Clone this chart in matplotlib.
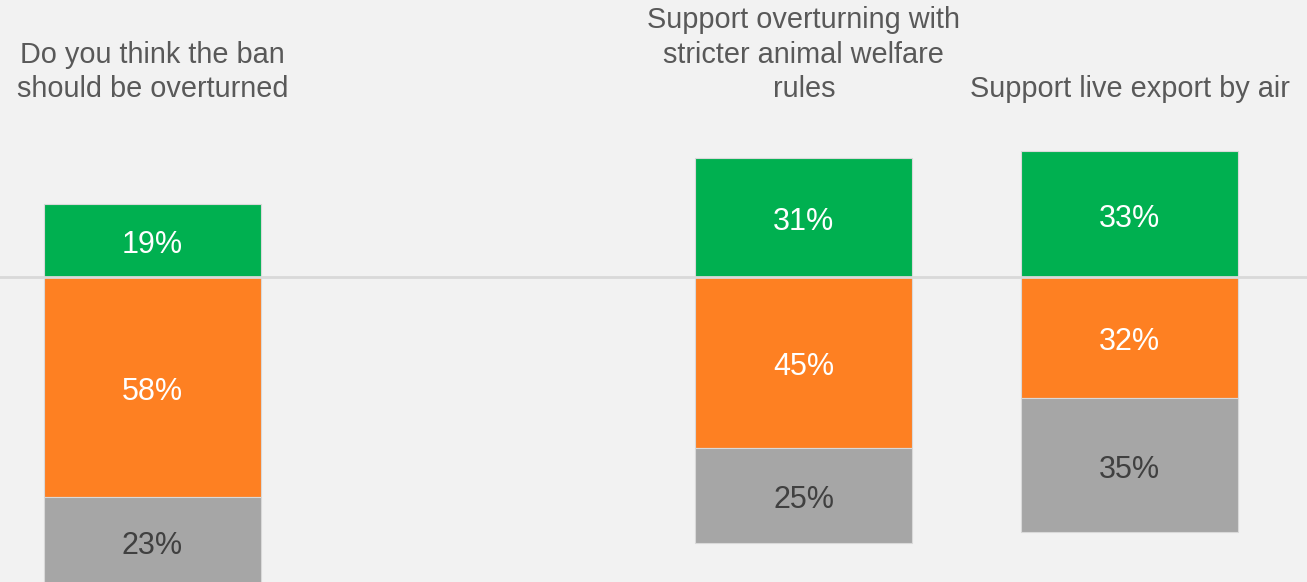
import matplotlib.pyplot as plt
import numpy as np

plt.rcParams['font.family'] = ['Liberation Sans', 'DejaVu Sans']

questions = ["Do you think the ban\nshould be overturned",
             "",
             "Support overturning with\nstricter animal welfare\nrules",
             "Support live export by air"]
support = np.array([19, np.nan, 31, 33])
oppose = np.array([58, np.nan, 45, 32])
unsure = np.array([23, np.nan, 25, 35])

green = '#00B050'
orange = '#FE8022'
grey = '#A6A6A6'
bg = '#F2F2F2'

fig = plt.figure(figsize=(13.07, 5.82), dpi=100, facecolor=bg)
ax = fig.add_axes([0, 0, 1, 1])
ax.set_facecolor(bg)

x = np.arange(len(questions))
w = 0.666
ax.bar(x, support, w, bottom=0, color=green, edgecolor='#D9D9D9', linewidth=0.8)
ax.bar(x, -oppose, w, bottom=0, color=orange, edgecolor='#D9D9D9', linewidth=0.8)
ax.bar(x, -unsure, w, bottom=-oppose, color=grey, edgecolor='#D9D9D9', linewidth=0.8)
ax.axhline(0, color='#D9D9D9', linewidth=2, zorder=5)

# labels sit a touch below the segment middle
off = 1.3
for i in range(len(x)):
    if np.isnan(support[i]):
        continue
    ax.text(x[i], support[i] / 2 - off, "%d%%" % support[i], ha='center', va='center',
            color='white', fontsize=22)
    ax.text(x[i], -oppose[i] / 2 - off, "%d%%" % oppose[i], ha='center', va='center',
            color='white', fontsize=22)
    ax.text(x[i], -oppose[i] - unsure[i] / 2 - off, "%d%%" % unsure[i], ha='center', va='center',
            color='#404040', fontsize=22)

for i, q in enumerate(questions):
    if not q:
        continue
    ax.text(x[i], 45.5, q, ha='center', va='bottom', multialignment='center',
            color='#595959', fontsize=20.8, linespacing=1.3)

ax.set_xlim(-0.468, 3.545)
ax.set_ylim(-80.2, 72.6)
ax.axis('off')

plt.savefig('out.png', dpi=100, facecolor=bg)
